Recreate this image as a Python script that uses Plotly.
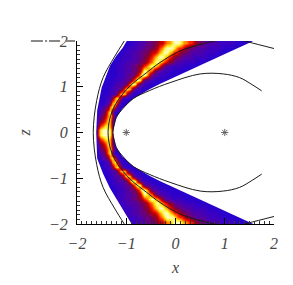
import numpy as np
import plotly.graph_objects as go

# Band intensity levels (1-10, 'a'=10), one string per z row; cells are 0.05 wide in x.
row_z = [0.05,0.15,0.25,0.35,0.45,0.55,0.65,0.75,0.85,0.95,1.05,1.15,1.25,1.35,1.45,1.55,1.65,1.75,1.85,1.95]
row_start = [-1.60,-1.60,-1.60,-1.60,-1.60,-1.60,-1.55,-1.55,-1.50,-1.50,-1.45,-1.40,-1.40,-1.35,-1.30,-1.25,-1.20,-1.15,-1.10,-1.00]
row_levels = [
 "79aaa96",
 "5789985",
 "3567985",
 "24568962",
 "13458951",
 "1234589631",
 "112358963111",
 "11223589632111",
 "1122335898532111",
 "1112233458985322111",
 "11122333458a9643221111",
 "111222334468a964332211111",
 "11112223344568aa8643322211111",
 "11122233344568a98754332221111111",
 "1122233344556789a987543322222111111",
 "11222333344556789a98765543332222211111",
 "11222233344556789aa98765544333322222211111",
 "112223334445566789aa9877655443333322222211111",
 "112222333444556789aaa98776554433333222222111111",
 "11222333444556678 89aaa98877655443333322222221111111".replace(" ", ""),
]
level_colors = ["#2a00cc","#3c00c0","#5000a8","#680080","#800040","#c00000","#ff2000","#ff9000","#fff020","#ffffc0"]

# Outline of the coloured band
edge_out_x = [-0.88,-1.10,-1.33,-1.47,-1.59,-1.61,-1.60,-1.59,-1.50,-1.33,-1.20,-1.07,-0.98]
edge_out_z = [-2.02,-1.62,-1.22,-0.90,-0.57,0.00,0.25,0.48,0.98,1.46,1.68,1.85,2.02]
edge_in_x = [1.62,0.56,-0.32,-0.52,-0.86,-1.08,-1.20,-1.27,-1.20,-1.08,-0.86,-0.52,-0.32,0.56,1.62]
edge_in_z = [-2.02,-1.50,-1.06,-0.95,-0.74,-0.52,-0.33,0.00,0.33,0.52,0.74,0.95,1.06,1.50,2.02]

curve_a_x = [-1.67,-1.60,-1.47,-1.23,-1.04]
curve_a_z = [0.00,0.70,1.20,1.67,2.00]
curve_b_x = [-1.37,-1.345,-1.28,-1.17,-0.92,-0.585,-0.315,0.09,0.56,0.95,1.20,1.47,2.02]
curve_b_z = [0.00,0.25,0.48,0.70,1.02,1.31,1.53,1.78,1.94,2.03,2.05,1.98,1.83]
curve_c_x = [-1.27,-1.20,-1.07,-0.86,-0.52,-0.11,0.50,0.97,1.30,1.55,1.75]
curve_c_z = [0.00,0.33,0.52,0.74,0.92,1.09,1.28,1.28,1.20,1.05,0.91]

star_x = [-1, 1]
star_z = [0, 0]
x_ticks = [-2,-1,0,1,2]
z_ticks = [-2,-1,0,1,2]

# Assemble the grid
x_cells = np.round(np.arange(-1.65, 1.65, 0.05) + 0.025, 3)
z_cells = [-v for v in row_z[::-1]] + row_z
grid = np.ones((len(z_cells), len(x_cells)))
n = len(row_z)
def col(c):
    return 10 if c == "a" else int(c)
for i, (start, s) in enumerate(zip(row_start, row_levels)):
    j0 = int(round((start + 1.65) / 0.05))
    for k, c in enumerate(s[:len(x_cells) - j0]):
        grid[n + i, j0 + k] = col(c)
        grid[n - 1 - i, j0 + k] = col(c)

colorscale = [[i / 9, c] for i, c in enumerate(level_colors)]

fig = go.Figure()
fig.add_trace(go.Heatmap(x=x_cells, y=z_cells, z=grid, colorscale=colorscale, zmin=1, zmax=10,
                         showscale=False, zsmooth="best"))
# White masks outside the band
fig.add_trace(go.Scatter(x=edge_out_x + [-2.2, -2.2], y=edge_out_z + [2.02, -2.02], mode="lines", fill="toself",
                         fillcolor="white", line=dict(width=0, color="white"), showlegend=False))
fig.add_trace(go.Scatter(x=edge_in_x + [2.2, 2.2], y=edge_in_z + [2.02, -2.02], mode="lines", fill="toself",
                         fillcolor="white", line=dict(width=0, color="white"), showlegend=False))
for cx, cz in ((curve_a_x, curve_a_z), (curve_b_x, curve_b_z), (curve_c_x, curve_c_z)):
    both_x = list(cx[:0:-1]) + list(cx)
    both_z = [-v for v in cz[:0:-1]] + list(cz)
    fig.add_trace(go.Scatter(x=both_x, y=both_z, mode="lines", showlegend=False,
                             line=dict(color="#1a1a1a", width=1, shape="spline")))
fig.add_trace(go.Scatter(x=star_x, y=star_z, mode="markers", showlegend=False,
                         marker=dict(symbol="asterisk-open", size=6, color="#666666", line=dict(color="#666666", width=1))))

tickfont = dict(family="Liberation Serif", size=16, color="#444444", style="italic")
axis = dict(range=[-2, 2], showgrid=False, zeroline=False, showline=True, linecolor="black", linewidth=1,
            ticks="inside", ticklen=6, tickcolor="black", tickwidth=1, tickfont=tickfont, ticklabelstandoff=5,
            minor=dict(dtick=0.1, ticks="inside", ticklen=3, tickcolor="#333333", tickwidth=1, showgrid=False))
fig.update_layout(
    width=293, height=285, autosize=False, paper_bgcolor="white", plot_bgcolor="white",
    margin=dict(l=77, r=19, t=41, b=61), showlegend=False,
    xaxis=dict(axis, tickvals=x_ticks, ticktext=["\u22122", "\u22121", "0", "1", "2"],
               title=dict(text="x", font=tickfont, standoff=10)),
    yaxis=dict(axis, tickvals=z_ticks, ticktext=["\u22122", "\u22121", "0", "1", "2"],
               title=dict(text="z", font=tickfont, standoff=14)),
    shapes=[dict(type="line", xref="paper", yref="paper", x0=a, x1=b, y0=1, y1=1,
                 line=dict(color="#888888", width=2))
            for a, b in ((-0.234, -0.173), (-0.162, -0.152), (-0.142, -0.086), (-0.06, -0.01))],
)
fig.write_html("out.html", post_script="document.body.style.margin='0';", config=dict(displayModeBar=False))
